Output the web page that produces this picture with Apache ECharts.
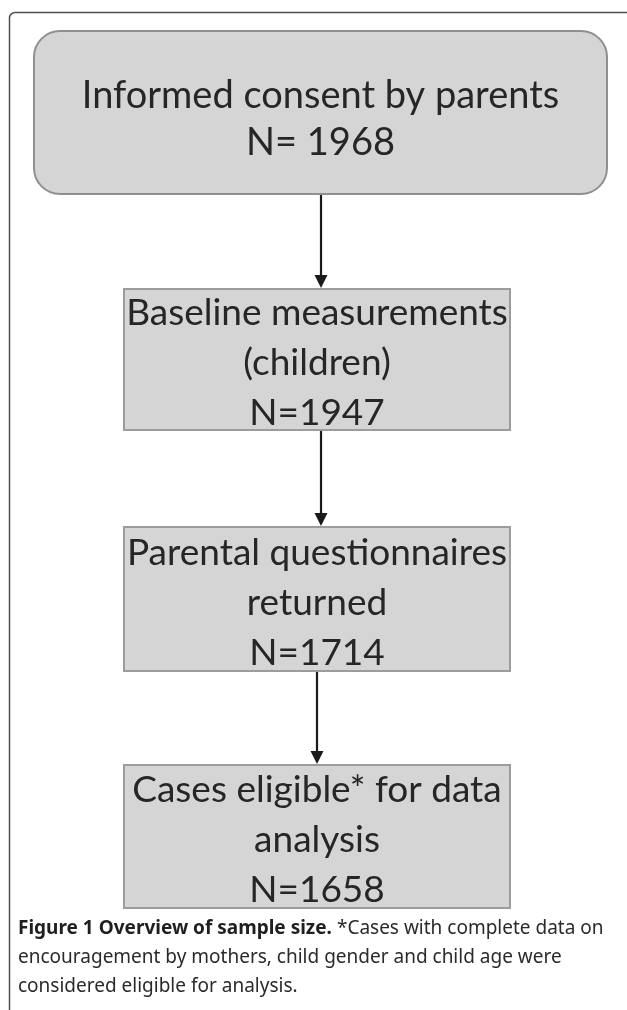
<!DOCTYPE html>
<html>
<head>
<meta charset="utf-8">
<script src="https://cdn.jsdelivr.net/npm/echarts@6/dist/echarts.min.js"></script>
<style>
  html, body { margin: 0; padding: 0; background: #fff; }
  #chart { width: 627px; height: 1010px; }
</style>
</head>
<body>
<div id="chart"></div>
<script>
// flow steps (top to bottom)
const stepTitles = [
    'Informed consent by parents',
    'Baseline measurements\n(children)',
    'Parental questionnaires\nreturned',
    'Cases eligible* for data\nanalysis'
];
const stepCounts = [1968, 1947, 1714, 1658];
const countPrefix = ['N= ', 'N=', 'N=', 'N='];

const captionBold = 'Figure 1 Overview of sample size.';
const captionLines = [
    '*Cases with complete data on',
    'encouragement by mothers, child gender and child age were',
    'considered eligible for analysis.'
];

// layout of the boxes, in page units (x: 0..627, y: 0..1010 downwards)
let boxLeft = [34, 124, 124, 124];
let boxRight = [607, 510, 510, 510];
let boxTop = [31, 289, 527, 765];
let boxBottom = [194, 430, 671, 908];
let arrowX = [321, 321, 317];

let chart = echarts.init(document.getElementById('chart'), null, {renderer: 'canvas'});

let boxData = stepTitles.map(function (t, i) { return [i]; });
let arrowData = [];
for (let i = 0; i < stepTitles.length - 1; i++) arrowData.push([i]);

let renderBox = function (params, api) {
    let i = api.value(0);
    let p0 = api.coord([boxLeft[i], boxTop[i]]);
    let p1 = api.coord([boxRight[i], boxBottom[i]]);
    let w = p1[0] - p0[0], h = p1[1] - p0[1];
    let label = stepTitles[i] + '\n' + countPrefix[i] + stepCounts[i];
    let cy = i === 0 ? p0[1] + h / 2 + 7 : p0[1] + h / 2 + 4;
    return {
        type: 'group',
        children: [{
            type: 'rect',
            shape: {x: p0[0], y: p0[1], width: w, height: h, r: i === 0 ? 26 : 0},
            style: {
                fill: '#d5d5d6',
                stroke: i === 0 ? '#8f8f90' : '#9c9c9d',
                lineWidth: 2
            }
        }, {
            type: 'text',
            x: p0[0] + w / 2,
            y: cy,
            style: {
                text: label,
                fill: '#262626',
                font: i === 0 ? '38px Lato' : '37px Lato',
                lineHeight: i === 0 ? 47 : 50,
                align: 'center',
                verticalAlign: 'middle'
            }
        }]
    };
};

let renderArrow = function (params, api) {
    let i = api.value(0);
    let a = api.coord([arrowX[i], boxBottom[i]]);
    let b = api.coord([arrowX[i], boxTop[i + 1]]);
    return {
        type: 'group',
        children: [{
            type: 'line',
            shape: {x1: a[0], y1: a[1] + 1, x2: b[0], y2: b[1] - 10},
            style: {stroke: '#1a1a1a', lineWidth: 2.2}
        }, {
            type: 'polygon',
            shape: {points: [[b[0] - 6.5, b[1] - 14], [b[0] + 6.5, b[1] - 14], [b[0], b[1] - 1]]},
            style: {fill: '#1a1a1a'}
        }]
    };
};

let frameStyle = {stroke: '#505050', lineWidth: 1.5, fill: null};

let option = {
    animation: false,
    backgroundColor: '#fff',
    title: {
        left: 18,
        top: 914,
        padding: 0,
        text: '{b|' + captionBold + '} {r|' + captionLines[0] + '}\n{r|' + captionLines[1] + '}\n{r|' + captionLines[2] + '}',
        textStyle: {
            lineHeight: 29,
            rich: {
                b: {fontFamily: 'Noto Sans', fontWeight: 'bold', fontSize: 19, color: '#1f1f1f', lineHeight: 29},
                r: {fontFamily: 'Noto Sans', fontWeight: 'normal', fontSize: 19, color: '#2a2a2a', lineHeight: 29}
            }
        }
    },
    grid: {left: 0, right: 0, top: 0, bottom: 0},
    xAxis: {type: 'value', min: 0, max: 627, show: false},
    yAxis: {type: 'value', min: 0, max: 1010, inverse: true, show: false},
    graphic: [
        // figure frame: left and top rule with a small rounded corner
        {type: 'line', silent: true, shape: {x1: 9.5, y1: 18, x2: 9.5, y2: 1010}, style: frameStyle},
        {type: 'line', silent: true, shape: {x1: 15, y1: 12.5, x2: 627, y2: 12.5}, style: frameStyle},
        {type: 'arc', silent: true, shape: {cx: 15, cy: 18, r: 5.5, startAngle: Math.PI, endAngle: Math.PI * 1.5}, style: frameStyle}
    ],
    series: [{
        type: 'custom',
        renderItem: renderBox,
        data: boxData,
        clip: false,
        silent: true
    }, {
        type: 'custom',
        renderItem: renderArrow,
        data: arrowData,
        clip: false,
        silent: true
    }]
};
chart.setOption(option);
</script>
</body>
</html>
